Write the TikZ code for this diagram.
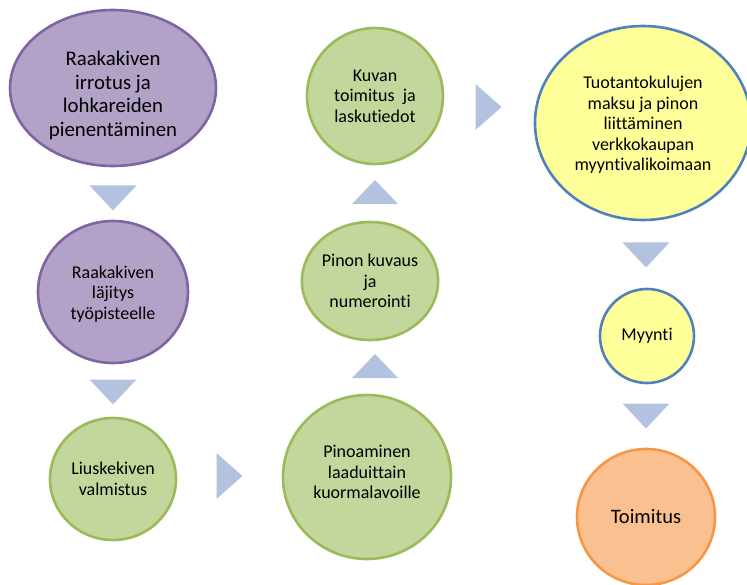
\documentclass[tikz,border=0pt]{standalone}
\usepackage{fontspec}
\setmainfont{Carlito}[Ligatures=NoCommon]
\usetikzlibrary{shapes.geometric}
\definecolor{purplefill}{HTML}{B3A2C7}
\definecolor{purpleline}{HTML}{8064A2}
\definecolor{greenfill}{HTML}{C3D69B}
\definecolor{greenline}{HTML}{9BBB59}
\definecolor{yellowfill}{HTML}{FFFF99}
\definecolor{blueline}{HTML}{4F81BD}
\definecolor{orangefill}{HTML}{FAC090}
\definecolor{orangeline}{HTML}{F79646}
\definecolor{pointer}{HTML}{B3C2DE}
\tikzset{
  stage/.style={ellipse, inner sep=0pt, line width=2.6pt, align=center,
    font=\fontsize{18}{20.5}\selectfont},
  purplestage/.style={stage, draw=purpleline, fill=purplefill},
  greenstage/.style={stage, draw=greenline, fill=greenfill},
  yellowstage/.style={stage, draw=blueline, fill=yellowfill},
  orangestage/.style={stage, draw=orangeline, fill=orangefill},
  pointerfill/.style={fill=pointer},
}
\newcommand\pdown[2]{\fill[pointerfill, shift={(#1,#2)}] (-23.5,-12.5) -- (23.5,-12.5) -- (0,12.5) -- cycle;}
\newcommand\pup[2]{\fill[pointerfill, shift={(#1,#2)}] (-23,12) -- (23,12) -- (0,-12) -- cycle;}
\newcommand\pright[2]{\fill[pointerfill, shift={(#1,#2)}] (-12.5,-23) -- (-12.5,23) -- (13.5,0) -- cycle;}
\begin{document}
\begin{tikzpicture}[x=1pt,y=-1pt]
\useasboundingbox (0,0) rectangle (747,585);

% left column
\node[purplestage, minimum width=206pt, minimum height=156pt,
      font=\fontsize{20.8}{23.5}\selectfont] (irrotus) at (113,88)
  {\rule{0pt}{29pt}Raakakiven\\irrotus ja\\lohkareiden\\pienentäminen};
\node[purplestage, minimum width=150pt, minimum height=142pt] (lajitys) at (113,292)
  {\rule{0pt}{16pt}Raakakiven\\läjitys\\työpisteelle};
\node[greenstage, minimum width=126pt, minimum height=122pt] (valmistus) at (113,479)
  {Liuskekiven\\valmistus};

% middle column
\node[greenstage, minimum width=168pt, minimum height=164pt] (pinoaminen) at (367,477)
  {Pinoaminen\\laaduittain\\kuormalavoille\rule[-10pt]{0pt}{10pt}};
\node[greenstage, minimum width=132pt, minimum height=118pt] (kuvaus) at (370,281)
  {Pinon kuvaus\\ja\\numerointi};
\node[greenstage, minimum width=136pt, minimum height=136pt] (toimitusjalasku) at (375,96)
  {Kuvan\\toimitus\ \ ja\\laskutiedot};

% right column
\node[yellowstage, minimum width=216pt, minimum height=194pt] (maksu) at (643,123)
  {\rule{0pt}{16pt}Tuotantokulujen\\maksu ja pinon\\liittäminen\\verkkokaupan\\myyntivalikoimaan};
\node[yellowstage, minimum width=94pt, minimum height=94pt] (myynti) at (647,336)
  {Myynti};
\node[orangestage, minimum width=138pt, minimum height=136pt,
      font=\fontsize{20.5}{23.5}\selectfont] (toimitus) at (646,517)
  {Toimitus};

% flow pointers between the stages
\pdown{113}{198}
\pdown{113}{392}
\pright{229}{476}
\pup{375}{366}
\pup{375}{192}
\pright{488}{107}
\pdown{646}{255}
\pdown{646}{416}
\end{tikzpicture}
\end{document}
